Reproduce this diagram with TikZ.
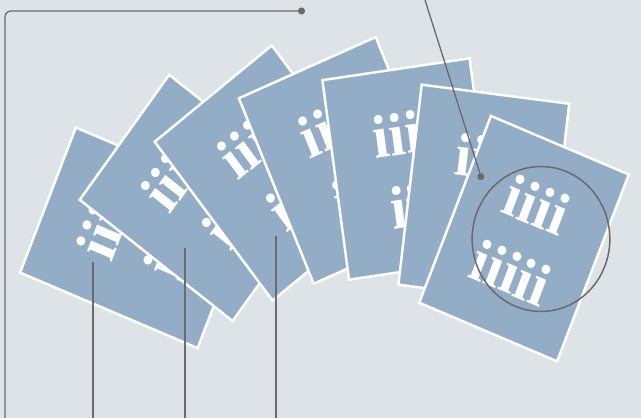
\documentclass[tikz,border=0pt]{standalone}
\usepackage{fontspec}
\setmainfont{Liberation Serif}
\usetikzlibrary{arrows.meta}

\definecolor{paper}{HTML}{DDE3E7}
\definecolor{cardblue}{HTML}{94ADC6}
\definecolor{leadgray}{HTML}{6B6B6B}

\begin{document}
\begin{tikzpicture}[x=0.02cm, y=-0.02cm,
    card/.style={draw=white, line width=1.4pt, fill=cardblue, text=white,
      minimum width=3.13cm, minimum height=4.03cm, align=center, inner sep=0pt,
      font=\fontsize{34.6}{41.5}\selectfont\bfseries},
    leader/.style={draw=leadgray, line width=0.75pt},
    lens/.style={draw=leadgray, line width=0.85pt, circle, minimum size=2.9cm, inner sep=0pt}]

	\fill[paper] (0,0) rectangle (641,418);
	\useasboundingbox (0,0) rectangle (641,418);

	% fan of cards, back to front (slightly narrowed)
	\begin{scope}[xscale=0.95, transform shape]
		\foreach \n/\x/\y/\a/\lo in {1/136.7/237.8/68/iii, 2/200.9/197.9/53/iii,
		    3/272.2/173/38/iii, 4/344.7/160.4/23/iii, 5/409.3/169/8/iii,
		    6/483.8/194.2/-7/iii, 7/524/238.6/-22/iiiii} {
			\node[card, rotate=\a] (card\n) at ({\x/0.95},\y) {iiii\\\lo};
		}
		\node[lens] (zoomring) at ({541/0.95},239) {};
	\end{scope}

	% leader lines
	\coordinate (tagTop) at (305,11);
	\coordinate (tagLeft) at (5,418);
	\draw[leader, rounded corners=3.4pt, {Circle[length=4pt]}-] (tagTop) -| (tagLeft);

	\coordinate (tagRight) at (425,0);
	\coordinate (pinLens) at (482,180);
	\draw[leader, -{Circle[length=4pt]}] (tagRight) -- (pinLens);

	\foreach \n/\x/\y in {1/93/262, 2/185/248, 3/276/236} {
		\coordinate (foot\n) at (\x,418);
		\coordinate (head\n) at (\x,\y);
		\draw[leader] (foot\n) -- (head\n);
	}

\end{tikzpicture}
\end{document}
